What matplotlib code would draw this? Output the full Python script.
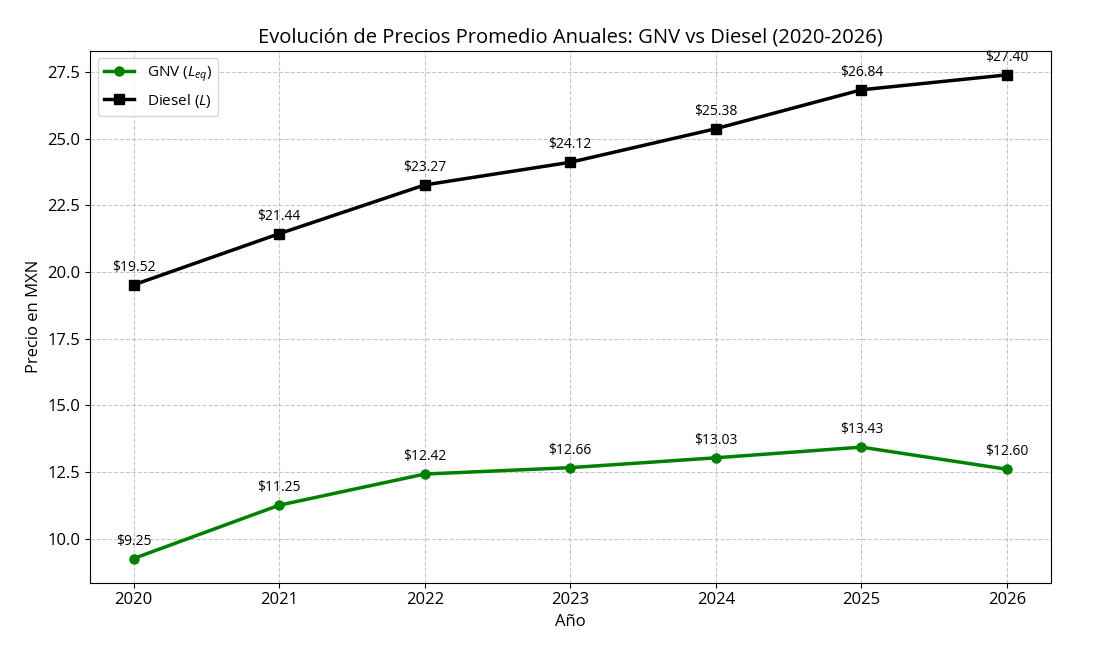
import matplotlib
matplotlib.use("Agg")
import matplotlib.pyplot as plt

years = [2020, 2021, 2022, 2023, 2024, 2025, 2026]
gnv = [9.25, 11.25, 12.42, 12.66, 13.03, 13.43, 12.60]
diesel = [19.52, 21.44, 23.27, 24.12, 25.38, 26.84, 27.40]

plt.rcParams['font.family'] = ['Open Sans', 'DejaVu Sans']
plt.rcParams['mathtext.fontset'] = 'custom'
plt.rcParams['mathtext.it'] = 'Open Sans:italic'
plt.rcParams['mathtext.rm'] = 'Open Sans'

fig = plt.figure(figsize=(11, 6.46), dpi=100)
ax = fig.add_axes([0.0818, 0.098, 0.955 - 0.0818, 0.9215 - 0.098])

ax.plot(years, gnv, marker='o', color='green', linewidth=2.5, markersize=6.5, label='GNV ($L_{eq}$)')
ax.plot(years, diesel, marker='s', color='black', linewidth=2.5, markersize=6.5, label='Diesel ($L$)')

for x, y in zip(years, gnv):
    ax.annotate(f"\\${y:.2f}", (x, y), textcoords="offset points", xytext=(0, 10),
                ha='center', fontsize=10)
for x, y in zip(years, diesel):
    ax.annotate(f"\\${y:.2f}", (x, y), textcoords="offset points", xytext=(0, 10),
                ha='center', fontsize=10)

ax.set_title("Evolución de Precios Promedio Anuales: GNV vs Diesel (2020-2026)", fontsize=14.5)
ax.set_xlabel("Año", fontsize=12)
ax.set_ylabel("Precio en MXN", fontsize=12)
ax.set_xticks(years)
ax.tick_params(labelsize=12)
ax.grid(True, linestyle='--', alpha=0.7)
ax.legend(loc='upper left', fontsize=11)

fig.savefig("out.png", dpi=100)
